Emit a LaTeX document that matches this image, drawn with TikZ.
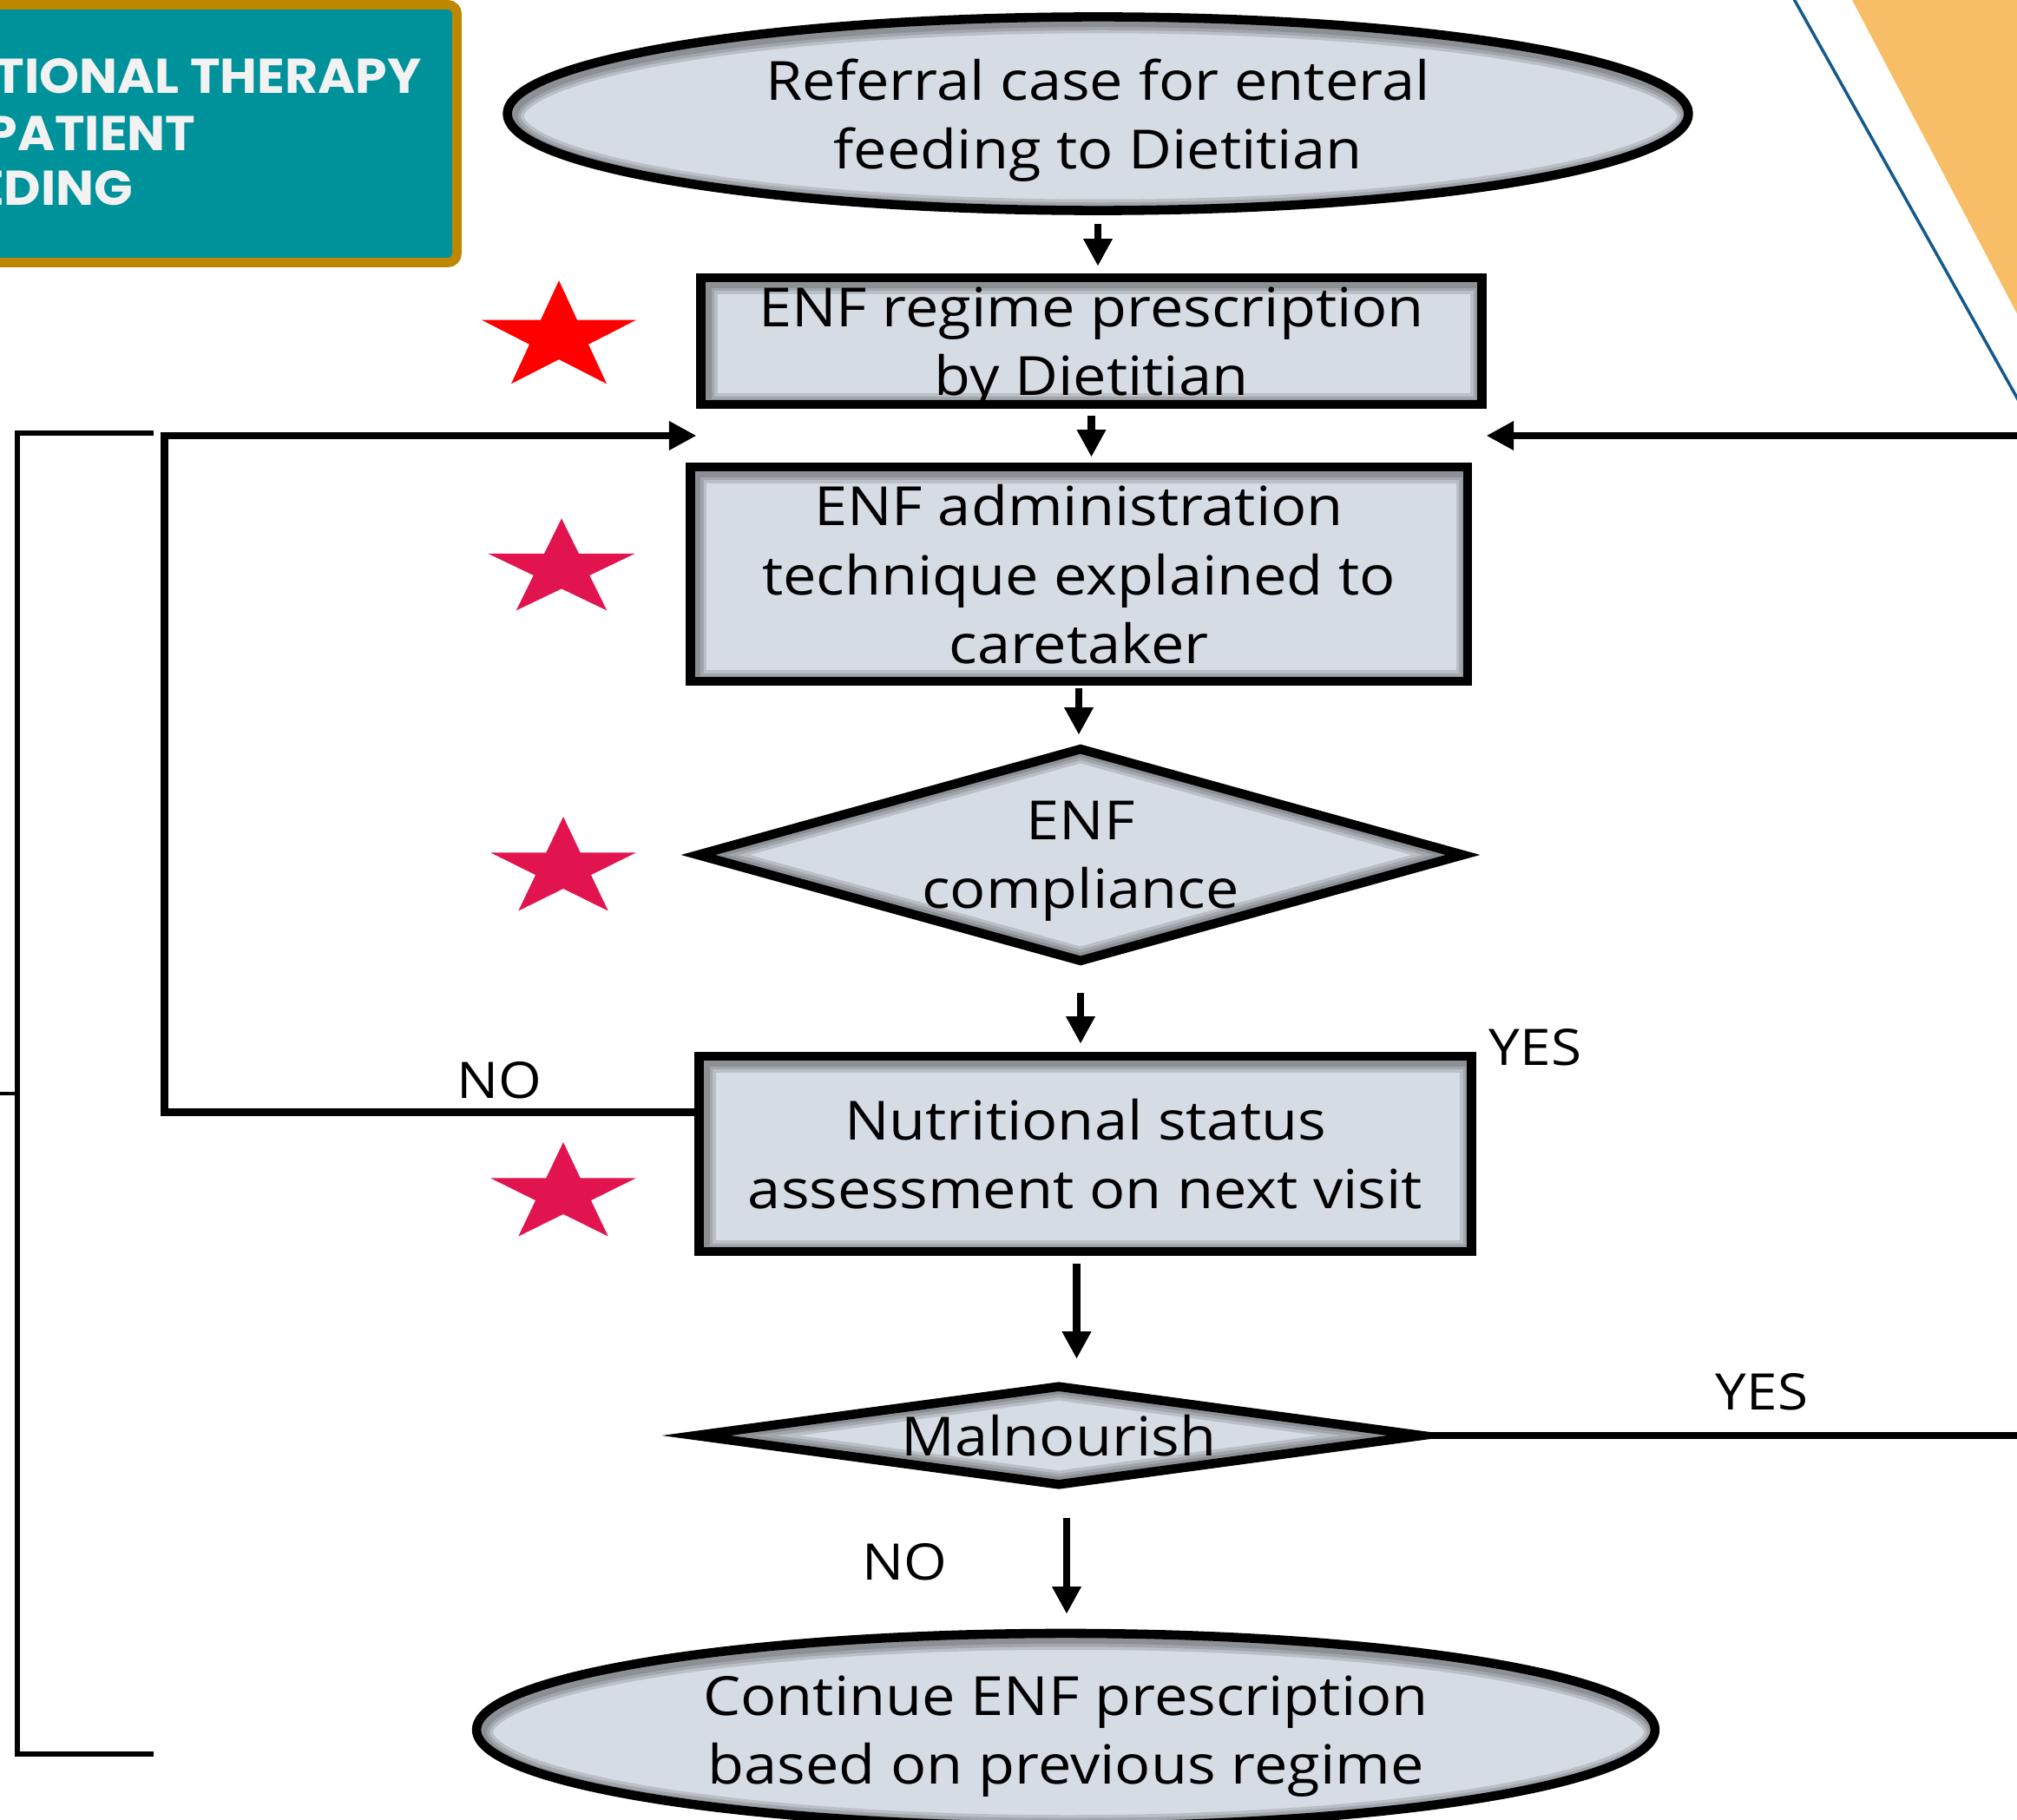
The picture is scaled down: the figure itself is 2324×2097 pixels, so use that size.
\documentclass[tikz,border=0pt]{standalone}
\usepackage{fontspec}
\usepackage{xcolor}
\usetikzlibrary{shapes,arrows,positioning,arrows.meta,calc}

\newfontfamily\flowfont[FakeStretch=1.1]{Open Sans}
\newfontfamily\bannerfont[FakeStretch=1.04]{Poppins}

\definecolor{boxfill}{HTML}{D6DCE4}
\definecolor{bannerteal}{HTML}{00929A}
\definecolor{bannergold}{HTML}{BD8700}
\definecolor{cornerorange}{HTML}{F8BE67}
\definecolor{cornerblue}{HTML}{14598C}
\definecolor{starred}{HTML}{FF0000}
\definecolor{starpink}{HTML}{E2144F}

\tikzset{
    innershade/.style={black, opacity=0.13},
    box/.style={rectangle, draw, line width=3pt, fill=boxfill, inner sep=0pt, align=center, text depth=0pt,
        font=\flowfont\fontsize{17.7}{22.6}\selectfont,
        path picture={\foreach \w in {9,7,5}
            \draw[innershade, line width=\w pt] ([shift={(0.03cm,-0.03cm)}]path picture bounding box.south west)
                rectangle ([shift={(0.03cm,-0.03cm)}]path picture bounding box.north east);}},
    terminal/.style 2 args={box, ellipse, minimum width=#1, minimum height=#2,
        path picture={\foreach \w in {9,7,5}
            \draw[innershade, line width=\w pt] ([shift={(0.03cm,-0.03cm)}]path picture bounding box.center)
                ellipse [x radius=#1/2, y radius=#2/2];}},
    decision/.style={box, diamond,
        path picture={\foreach \w in {9,7,5}
            \draw[innershade, line width=\w pt, shift={(0.03cm,-0.03cm)}] (path picture bounding box.north)
                -- (path picture bounding box.east) -- (path picture bounding box.south)
                -- (path picture bounding box.west) -- cycle;}},
    flow/.style={line width=2.4pt, -{Triangle[length=9pt,width=9pt]}},
    answer/.style={font=\flowfont\fontsize{16.5}{20}\selectfont},
    bannertext/.style={font=\bannerfont\bfseries\fontsize{16}{19}\selectfont, text={rgb,255:red,242;green,242;blue,242}, inner sep=0pt}
}

\begin{document}
\begin{tikzpicture}[x=0.01cm, y=-0.01cm]
    \useasboundingbox (0,0) rectangle (2324,2097);

    % Title banner, cut by the left edge
    \draw[line width=3.1pt, draw=bannergold, fill=bannerteal, rounded corners=3pt] (-30,5.5) rectangle (526.5,302.5);
    \node[bannertext, anchor=base east] (bannerone) at (486,108) {TIONAL THERAPY};
    \node[bannertext, anchor=base east] (bannertwo) at (226,173) {PATIENT};
    \node[bannertext, anchor=base east] (bannerthree) at (154,237) {EDING};

    % Corner decoration
    \fill[cornerorange] (2134,0) -- (2400,0) -- (2400,506) -- cycle;
    \draw[cornerblue, line width=1pt] (2062,-10) -- (2335,478);

    % Flow steps
    \node[terminal={13.6cm}{2.23cm}] (referral) at (1265,131) {Referral case for enteral\\feeding to Dietitian};
    \node[box, minimum width=8.99cm, minimum height=1.46cm] (regime) at (1257.5,393) {ENF regime prescription\\by Dietitian};
    \node[box, minimum width=8.95cm, minimum height=2.47cm] (technique) at (1243,661.5) {ENF administration\\technique explained to\\caretaker};
    \node[decision, shape aspect=3.5, minimum width=8.85cm, minimum height=2.48cm] (compliance) at (1245,985) {ENF\\compliance};
    \node[box, minimum width=8.89cm, minimum height=2.25cm] (assessment) at (1250.5,1329.5) {Nutritional status\\assessment on next visit};
    \node[decision, shape aspect=7, minimum width=8.4cm, minimum height=1.17cm] (malnourish) at (1220,1654) {Malnourish};
    \node[terminal={13.57cm}{2.22cm}] (continue) at (1228,1993) {Continue ENF prescription\\based on previous regime};

    % Stars beside the steps
    \foreach \sx/\sy/\rx/\ry/\col in {644/389/93.6/65.8/starred, 647/656/88.9/58.6/starpink,
                                     649/1001/88/60/starpink, 649/1376/88/60/starpink} {
        \fill[\col] plot[samples at={0,...,9}]
            ({\sx + \rx*(1-0.618*mod(\x,2))*cos(90+36*\x)}, {\sy - \ry*(1-0.618*mod(\x,2))*sin(90+36*\x)}) -- cycle;
    }

    % Main arrows
    \draw[flow, shorten <=0.1cm, shorten >=0.08cm] (referral.south) -- (referral.south |- regime.north);
    \draw[flow, shorten <=0.08cm, shorten >=0.06cm] (regime.south) -- (regime.south |- technique.north);
    \draw[flow, shorten <=0.03cm, shorten >=0.09cm] (technique.south) -- (technique.south |- compliance.north);
    \draw[flow, shorten <=0.3cm, shorten >=0.09cm] (compliance.south) -- (compliance.south |- assessment.north);
    \draw[flow, shorten <=0.09cm, shorten >=0.245cm] ([xshift=-0.1cm]assessment.south) -- ([xshift=-0.1cm]assessment.south |- malnourish.north);
    \draw[flow, shorten <=0.31cm, shorten >=0.17cm] ([xshift=0.09cm]malnourish.south) -- ([xshift=0.09cm]malnourish.south |- continue.north);

    % Loops back to the technique step
    \coordinate (gap) at ($(regime.south)!0.5!(technique.north)$);
    \draw[flow] ([yshift=0.48cm]assessment.west) -- ++(-611,0) |- (regime.west |- gap);
    \draw[flow] (malnourish.east) -- ++(800,0) |- (regime.east |- gap);

    % Answers
    \node[answer] (yesone) at (1769,1207) {YES};
    \node[answer] (noone) at (575,1245) {NO};
    \node[answer] (yestwo) at (2030,1604) {YES};
    \node[answer] (notwo) at (1042,1800) {NO};

    % Bracket on the left
    \draw[line width=1.5pt] (177,499) -- (20,499) -- (20,2021) -- (177,2021);
    \draw[line width=1.2pt] (0,1260) -- (20,1260);
\end{tikzpicture}
\end{document}
